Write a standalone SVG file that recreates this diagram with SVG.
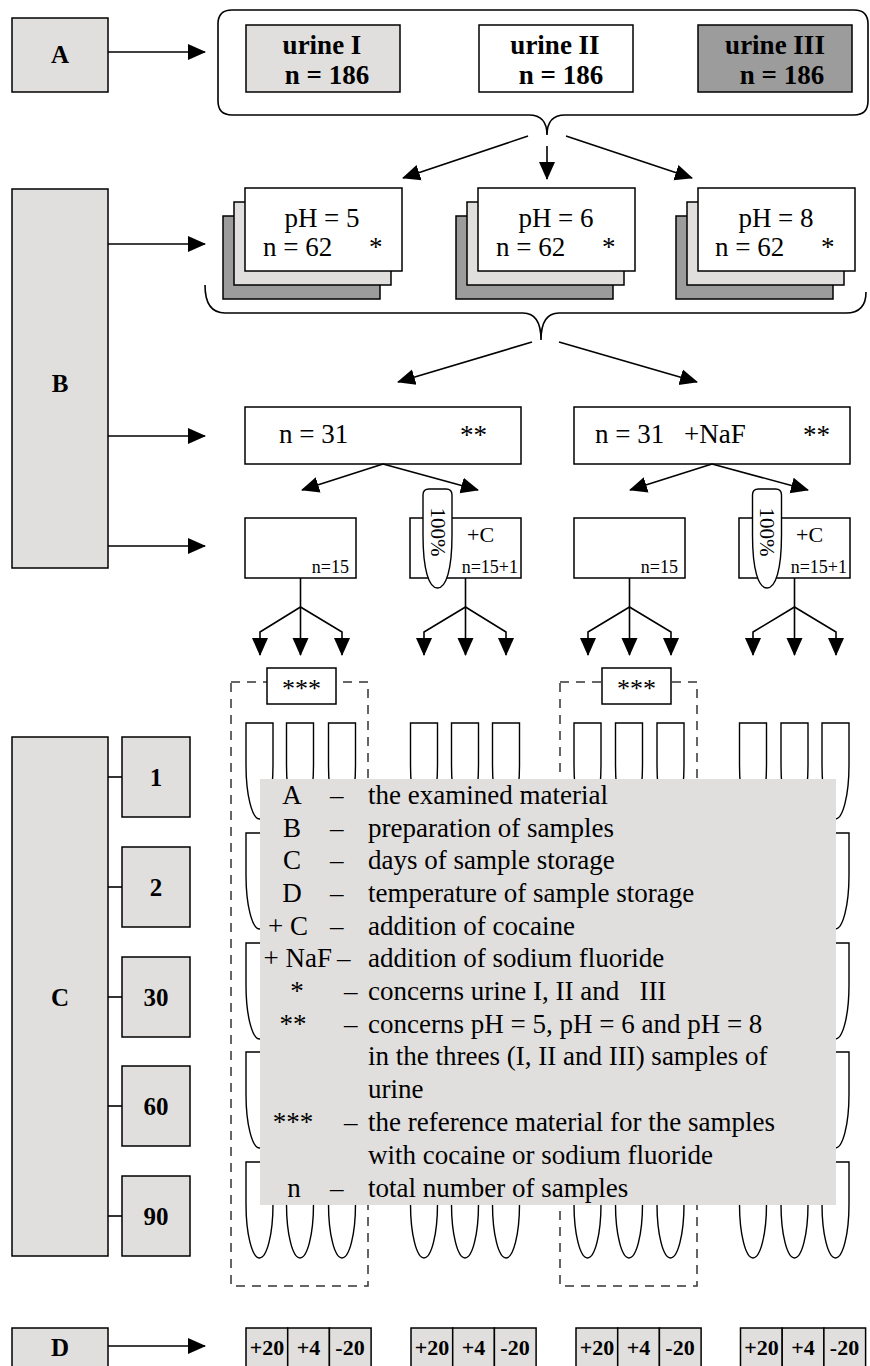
<svg xmlns="http://www.w3.org/2000/svg" xmlns:xlink="http://www.w3.org/1999/xlink" width="870" height="1366" viewBox="0 0 870 1366">
<style>
.bx{stroke:#000;stroke-width:1.5}
.lg{fill:#e0dfdd}
.dk{fill:#9c9c9c}
.wh{fill:#fff}
.ln{stroke:#000;stroke-width:1.6;fill:none}
.ar{stroke:#000;stroke-width:1.6;fill:none;marker-end:url(#ah)}
.dash{stroke:#333;stroke-width:1.5;fill:none;stroke-dasharray:9 7}
.tb{stroke:#000;stroke-width:1.4;fill:#fff}
.t{font-family:"Liberation Serif","Times New Roman",serif;fill:#000}
.b{font-weight:bold}
.big{font-size:27px}
.mid{font-size:22px}
.sm{font-size:18px}
.c{text-anchor:middle}
.e{text-anchor:end}
</style>
<defs>
<marker id="ah" markerUnits="userSpaceOnUse" markerWidth="18" markerHeight="18" viewBox="0 0 18 18" refX="17" refY="9" orient="auto"><path d="M0,1 L18,9 L0,17 Z" fill="#000"/></marker>
<path id="tube" d="M0,0 H27 V42 A13.5,54 0 0 1 0,42 Z"/>
</defs>
<rect width="870" height="1366" fill="#fff"/>

<!-- Row A -->
<g id="nodeA"><rect class="bx lg" x="12" y="18" width="96" height="74"/><text class="t b c" x="60" y="63" font-size="25">A</text></g>
<g id="containerA"><path class="ln" d="M232,10 H854 Q868,10 868,24 V101 Q868,115 854,115 H565 Q547,115 547,135 Q547,115 529,115 H232 Q218,115 218,101 V24 Q218,10 232,10 Z"/></g>
<g id="urine1"><rect class="bx lg" x="246" y="25" width="154" height="67"/><text class="t b big c" x="322" y="54">urine I</text><text class="t b big c" x="327" y="84">n = 186</text></g>
<g id="urine2"><rect class="bx wh" x="479" y="25" width="154" height="67"/><text class="t b big c" x="555" y="54">urine II</text><text class="t b big c" x="561" y="84">n = 186</text></g>
<g id="urine3"><rect class="bx dk" x="698" y="25" width="154" height="67"/><text class="t b big c" x="775" y="54">urine III</text><text class="t b big c" x="782" y="84">n = 186</text></g>

<!-- Row B -->
<g id="nodeB"><rect class="bx lg" x="12" y="189" width="96" height="379"/><text class="t b c" x="60" y="392" font-size="25">B</text></g>
<g id="ph5"><rect class="bx dk" x="223" y="216" width="157" height="83"/><rect class="bx lg" x="234" y="202" width="157" height="83"/><rect class="bx wh" x="245" y="188" width="157" height="83"/><text class="t big c" x="322" y="227">pH = 5</text><text class="t big" x="263" y="256">n = 62</text><text class="t big" x="369" y="256">*</text></g>
<g id="ph6"><rect class="bx dk" x="456" y="216" width="157" height="83"/><rect class="bx lg" x="467" y="202" width="157" height="83"/><rect class="bx wh" x="478" y="188" width="157" height="83"/><text class="t big c" x="556" y="227">pH = 6</text><text class="t big" x="496" y="256">n = 62</text><text class="t big" x="602" y="256">*</text></g>
<g id="ph8"><rect class="bx dk" x="676" y="216" width="157" height="83"/><rect class="bx lg" x="687" y="202" width="157" height="83"/><rect class="bx wh" x="698" y="188" width="157" height="83"/><text class="t big c" x="776" y="227">pH = 8</text><text class="t big" x="715" y="256">n = 62</text><text class="t big" x="821" y="256">*</text></g>
<g id="bracketB"><path class="ln" d="M205,285 Q205,313 225,313 H523 Q541,313 541,340 Q541,313 559,313 H846 Q866,313 866,292"/></g>
<g id="n31a"><rect class="bx wh" x="245" y="407" width="276" height="57"/><text class="t big" x="279" y="443">n = 31</text><text class="t big" x="460" y="444">**</text></g>
<g id="n31b"><rect class="bx wh" x="574" y="407" width="276" height="57"/><text class="t big" x="595" y="443">n = 31</text><text class="t big" x="684" y="443">+NaF</text><text class="t big" x="803" y="444">**</text></g>
<g id="s1"><rect class="bx wh" x="245" y="518" width="111" height="60"/><text class="t sm e" x="349" y="573">n=15</text></g>
<g id="s2"><rect class="bx wh" x="410" y="518" width="111" height="60"/><text class="t mid" x="467" y="542">+C</text><text class="t sm e" x="518" y="573">n=15+1</text>
<path class="tb" d="M423,495 Q423,489 429,489 H446 Q452,489 452,495 V535 C452,570 446,588 437.5,588 C429,588 423,570 423,535 Z"/><text class="t c" font-size="21" transform="translate(437.5,532) rotate(90)" x="0" y="7">100%</text></g>
<g id="s3"><rect class="bx wh" x="574" y="518" width="111" height="60"/><text class="t sm e" x="678" y="573">n=15</text></g>
<g id="s4"><rect class="bx wh" x="739" y="518" width="111" height="60"/><text class="t mid" x="796" y="542">+C</text><text class="t sm e" x="847" y="573">n=15+1</text>
<path class="tb" d="M752.5,495 Q752.5,489 758.5,489 H775.5 Q781.5,489 781.5,495 V535 C781.5,570 775.5,588 767,588 C758.5,588 752.5,570 752.5,535 Z"/><text class="t c" font-size="21" transform="translate(767,532) rotate(90)" x="0" y="7">100%</text></g>

<!-- dashed reference boxes -->
<g id="ref1"><rect class="dash" x="231" y="682" width="137" height="604"/><rect class="bx wh" x="267" y="668" width="69" height="36"/><text class="t c" font-size="26" x="301.5" y="697">***</text></g>
<g id="ref2"><rect class="dash" x="560" y="682" width="137" height="604"/><rect class="bx wh" x="602" y="668" width="69" height="36"/><text class="t c" font-size="26" x="636.5" y="697">***</text></g>

<!-- tubes -->
<g id="tubes" class="tb">
<use xlink:href="#tube" x="246" y="723"/><use xlink:href="#tube" x="286.5" y="723"/><use xlink:href="#tube" x="328.5" y="723"/>
<use xlink:href="#tube" x="410.5" y="723"/><use xlink:href="#tube" x="451.5" y="723"/><use xlink:href="#tube" x="492.5" y="723"/>
<use xlink:href="#tube" x="574" y="723"/><use xlink:href="#tube" x="615.5" y="723"/><use xlink:href="#tube" x="657" y="723"/>
<use xlink:href="#tube" x="739.5" y="723"/><use xlink:href="#tube" x="781" y="723"/><use xlink:href="#tube" x="822" y="723"/>
<use xlink:href="#tube" x="246" y="833"/><use xlink:href="#tube" x="286.5" y="833"/><use xlink:href="#tube" x="328.5" y="833"/>
<use xlink:href="#tube" x="410.5" y="833"/><use xlink:href="#tube" x="451.5" y="833"/><use xlink:href="#tube" x="492.5" y="833"/>
<use xlink:href="#tube" x="574" y="833"/><use xlink:href="#tube" x="615.5" y="833"/><use xlink:href="#tube" x="657" y="833"/>
<use xlink:href="#tube" x="739.5" y="833"/><use xlink:href="#tube" x="781" y="833"/><use xlink:href="#tube" x="822" y="833"/>
<use xlink:href="#tube" x="246" y="943"/><use xlink:href="#tube" x="286.5" y="943"/><use xlink:href="#tube" x="328.5" y="943"/>
<use xlink:href="#tube" x="410.5" y="943"/><use xlink:href="#tube" x="451.5" y="943"/><use xlink:href="#tube" x="492.5" y="943"/>
<use xlink:href="#tube" x="574" y="943"/><use xlink:href="#tube" x="615.5" y="943"/><use xlink:href="#tube" x="657" y="943"/>
<use xlink:href="#tube" x="739.5" y="943"/><use xlink:href="#tube" x="781" y="943"/><use xlink:href="#tube" x="822" y="943"/>
<use xlink:href="#tube" x="246" y="1052"/><use xlink:href="#tube" x="286.5" y="1052"/><use xlink:href="#tube" x="328.5" y="1052"/>
<use xlink:href="#tube" x="410.5" y="1052"/><use xlink:href="#tube" x="451.5" y="1052"/><use xlink:href="#tube" x="492.5" y="1052"/>
<use xlink:href="#tube" x="574" y="1052"/><use xlink:href="#tube" x="615.5" y="1052"/><use xlink:href="#tube" x="657" y="1052"/>
<use xlink:href="#tube" x="739.5" y="1052"/><use xlink:href="#tube" x="781" y="1052"/><use xlink:href="#tube" x="822" y="1052"/>
<use xlink:href="#tube" x="246" y="1162"/><use xlink:href="#tube" x="286.5" y="1162"/><use xlink:href="#tube" x="328.5" y="1162"/>
<use xlink:href="#tube" x="410.5" y="1162"/><use xlink:href="#tube" x="451.5" y="1162"/><use xlink:href="#tube" x="492.5" y="1162"/>
<use xlink:href="#tube" x="574" y="1162"/><use xlink:href="#tube" x="615.5" y="1162"/><use xlink:href="#tube" x="657" y="1162"/>
<use xlink:href="#tube" x="739.5" y="1162"/><use xlink:href="#tube" x="781" y="1162"/><use xlink:href="#tube" x="822" y="1162"/>
</g>

<!-- Row C -->
<g id="nodeC"><rect class="bx lg" x="12" y="737" width="96" height="519"/><text class="t b c" x="60" y="1006" font-size="25">C</text></g>
<g id="day1"><rect class="bx lg" x="122" y="737" width="68" height="80"/><text class="t b c" x="156" y="786" font-size="25">1</text></g>
<g id="day2"><rect class="bx lg" x="122" y="847" width="68" height="80"/><text class="t b c" x="156" y="896" font-size="25">2</text></g>
<g id="day30"><rect class="bx lg" x="122" y="957" width="68" height="80"/><text class="t b c" x="156" y="1006" font-size="25">30</text></g>
<g id="day60"><rect class="bx lg" x="122" y="1066" width="68" height="80"/><text class="t b c" x="156" y="1115" font-size="25">60</text></g>
<g id="day90"><rect class="bx lg" x="122" y="1176" width="68" height="80"/><text class="t b c" x="156" y="1225" font-size="25">90</text></g>

<!-- Legend -->
<g id="legend">
<rect class="lg" x="260" y="779" width="576" height="426"/>
<g class="t big">
<text x="292" y="804" class="c">A</text><text x="330" y="804">–</text><text x="368" y="804">the examined material</text>
<text x="292" y="837" class="c">B</text><text x="330" y="837">–</text><text x="368" y="837">preparation of samples</text>
<text x="292" y="869" class="c">C</text><text x="330" y="869">–</text><text x="368" y="869">days of sample storage</text>
<text x="292" y="902" class="c">D</text><text x="330" y="902">–</text><text x="368" y="902">temperature of sample storage</text>
<text x="268" y="935">+ C</text><text x="330" y="935">–</text><text x="368" y="935">addition of cocaine</text>
<text x="332" y="967" class="e">+ NaF</text><text x="337" y="967">–</text><text x="368" y="967">addition of sodium fluoride</text>
<text x="297" y="1000" class="c">*</text><text x="344" y="1000">–</text><text x="368" y="1000" xml:space="preserve">concerns urine I, II and   III</text>
<text x="293" y="1033" class="c">**</text><text x="344" y="1033">–</text><text x="368" y="1033">concerns pH = 5, pH = 6 and pH = 8</text>
<text x="368" y="1065">in the threes (I, II and III) samples of</text>
<text x="368" y="1098">urine</text>
<text x="293" y="1131" class="c">***</text><text x="344" y="1131">–</text><text x="368" y="1131">the reference material for the samples</text>
<text x="368" y="1164">with cocaine or sodium fluoride</text>
<text x="294" y="1197" class="c">n</text><text x="330" y="1197">–</text><text x="368" y="1197">total number of samples</text>
</g>
</g>

<!-- Row D -->
<g id="nodeD"><rect class="bx lg" x="12" y="1328" width="96" height="60"/><text class="t b c" x="60" y="1356" font-size="25">D</text></g>
<g id="temps1" class="bx lg"><rect x="246" y="1328" width="41.7" height="60"/><rect x="287.7" y="1328" width="41.7" height="60"/><rect x="329.4" y="1328" width="41.7" height="60"/></g>
<g id="temps2" class="bx lg"><rect x="411" y="1328" width="41.7" height="60"/><rect x="452.7" y="1328" width="41.7" height="60"/><rect x="494.4" y="1328" width="41.7" height="60"/></g>
<g id="temps3" class="bx lg"><rect x="576" y="1328" width="41.7" height="60"/><rect x="617.7" y="1328" width="41.7" height="60"/><rect x="659.4" y="1328" width="41.7" height="60"/></g>
<g id="temps4" class="bx lg"><rect x="740.5" y="1328" width="41.7" height="60"/><rect x="782.2" y="1328" width="41.7" height="60"/><rect x="823.9" y="1328" width="41.7" height="60"/></g>
<g id="tempLabels" class="t b mid c">
<text x="267" y="1355">+20</text><text x="308.5" y="1355">+4</text><text x="350" y="1355">-20</text>
<text x="432" y="1355">+20</text><text x="473.5" y="1355">+4</text><text x="515" y="1355">-20</text>
<text x="597" y="1355">+20</text><text x="638.5" y="1355">+4</text><text x="680" y="1355">-20</text>
<text x="761.5" y="1355">+20</text><text x="803" y="1355">+4</text><text x="844.5" y="1355">-20</text>
</g>

<!-- connectors -->
<g id="connectors">
<line class="ar" x1="108" y1="52" x2="205" y2="52"/>
<line class="ar" x1="528" y1="136" x2="403" y2="178"/>
<line class="ar" x1="547" y1="146" x2="547" y2="179"/>
<line class="ar" x1="566" y1="136" x2="692" y2="178"/>
<line class="ar" x1="108" y1="244" x2="205" y2="244"/>
<line class="ar" x1="108" y1="436" x2="205" y2="436"/>
<line class="ar" x1="108" y1="546" x2="205" y2="546"/>
<line class="ar" x1="532" y1="342" x2="398" y2="382"/>
<line class="ar" x1="559" y1="342" x2="697" y2="382"/>
<line class="ar" x1="383" y1="464" x2="302" y2="490"/>
<line class="ar" x1="383" y1="464" x2="478" y2="490"/>
<line class="ar" x1="712" y1="464" x2="630" y2="490"/>
<line class="ar" x1="712" y1="464" x2="808" y2="490"/>
<path class="ln" d="M300.5,578 V607"/><path class="ar" d="M300.5,607 L260,632 V655"/><path class="ar" d="M300.5,607 V655"/><path class="ar" d="M300.5,607 L342,632 V655"/>
<path class="ln" d="M465.5,578 V607"/><path class="ar" d="M465.5,607 L424,632 V655"/><path class="ar" d="M465.5,607 V655"/><path class="ar" d="M465.5,607 L506,632 V655"/>
<path class="ln" d="M629.5,578 V607"/><path class="ar" d="M629.5,607 L588,632 V655"/><path class="ar" d="M629.5,607 V655"/><path class="ar" d="M629.5,607 L671,632 V655"/>
<path class="ln" d="M794.5,578 V607"/><path class="ar" d="M794.5,607 L753,632 V655"/><path class="ar" d="M794.5,607 V655"/><path class="ar" d="M794.5,607 L836,632 V655"/>
<line class="ln" x1="108" y1="777" x2="122" y2="777"/>
<line class="ln" x1="108" y1="887" x2="122" y2="887"/>
<line class="ln" x1="108" y1="997" x2="122" y2="997"/>
<line class="ln" x1="108" y1="1106" x2="122" y2="1106"/>
<line class="ln" x1="108" y1="1216" x2="122" y2="1216"/>
<line class="ar" x1="108" y1="1346" x2="205" y2="1346"/>
</g>
</svg>
